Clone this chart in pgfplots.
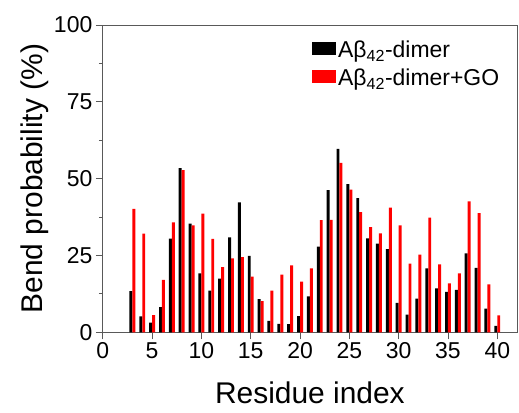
\documentclass[border=0pt]{standalone}
\usepackage{pgfplots}
\pgfplotsset{compat=1.18}
\usepackage{fontspec}
\setmainfont{Liberation Sans}
\begin{document}
\begin{tikzpicture}
\begin{axis}[
 scale only axis, width=415pt, height=308pt,
 xmin=0, xmax=42, ymin=0, ymax=100,
 xtick={0,5,...,40}, ytick={0,25,50,75,100},
 minor ytick={12.5,37.5,62.5,87.5},
 xtick pos=lower, ytick pos=left,
 tick align=outside, major tick length=7pt, minor tick length=4pt,
 axis line style={draw=black!65, line width=0.9pt},
 tick style={draw=black!65, line width=0.9pt},
 /pgf/number format/assume math mode=true,
 ticklabel style={font=\fontsize{23}{23}\selectfont},
 xlabel={Residue index}, ylabel={Bend probability (\%)},
 label style={font=\fontsize{30}{30}\selectfont},
 xlabel style={yshift=-16pt},
 ylabel style={yshift=-2pt},
 legend style={at={(0.505,0.955)}, anchor=north west, draw=none, fill=none,
   font=\fontsize{23}{23}\selectfont, row sep=6pt, inner sep=0pt},
 legend cell align=left,
 legend image code/.code={\fill[#1] (0pt,-5pt) rectangle (24pt,8pt);},
]
\addplot[ybar, bar width=0.3, bar shift=-0.15, fill=black, draw=none] coordinates {
(3,13.4)(4,5.2)(5,3.2)(6,8.2)(7,30.5)(8,53.4)(9,35.4)(10,19.2)(11,13.6)(12,17.5)(13,30.9)(14,42.3)(15,24.9)(16,10.8)(17,3.7)(18,2.8)(19,2.7)(20,5.3)(21,11.7)(22,27.9)(23,46.3)(24,59.7)(25,48.2)(26,43.7)(27,30.6)(28,28.9)(29,27.1)(30,9.6)(31,5.8)(32,11.0)(33,20.8)(34,14.3)(35,13.2)(36,13.8)(37,25.7)(38,21.0)(39,7.7)(40,2.1)};
\addlegendentry{Aβ\textsubscript{42}-dimer}
\addplot[ybar, bar width=0.3, bar shift=0.15, fill=red, draw=none] coordinates {
(3,40.2)(4,32.1)(5,5.6)(6,17.1)(7,35.8)(8,52.8)(9,34.8)(10,38.6)(11,30.4)(12,21.2)(13,24.1)(14,24.5)(15,18.1)(16,10.2)(17,13.6)(18,18.8)(19,21.8)(20,16.5)(21,20.8)(22,36.5)(23,36.6)(24,55.1)(25,46.4)(26,39.1)(27,34.2)(28,32.2)(29,40.6)(30,34.8)(31,22.4)(32,25.3)(33,37.3)(34,22.1)(35,15.9)(36,19.2)(37,42.6)(38,38.8)(39,15.6)(40,5.5)};
\addlegendentry{Aβ\textsubscript{42}-dimer+GO}
\end{axis}
\path ([shift={(-103pt,-80pt)}]current axis.south west) rectangle ([shift={(2pt,25pt)}]current axis.north east);
\end{tikzpicture}
\end{document}
